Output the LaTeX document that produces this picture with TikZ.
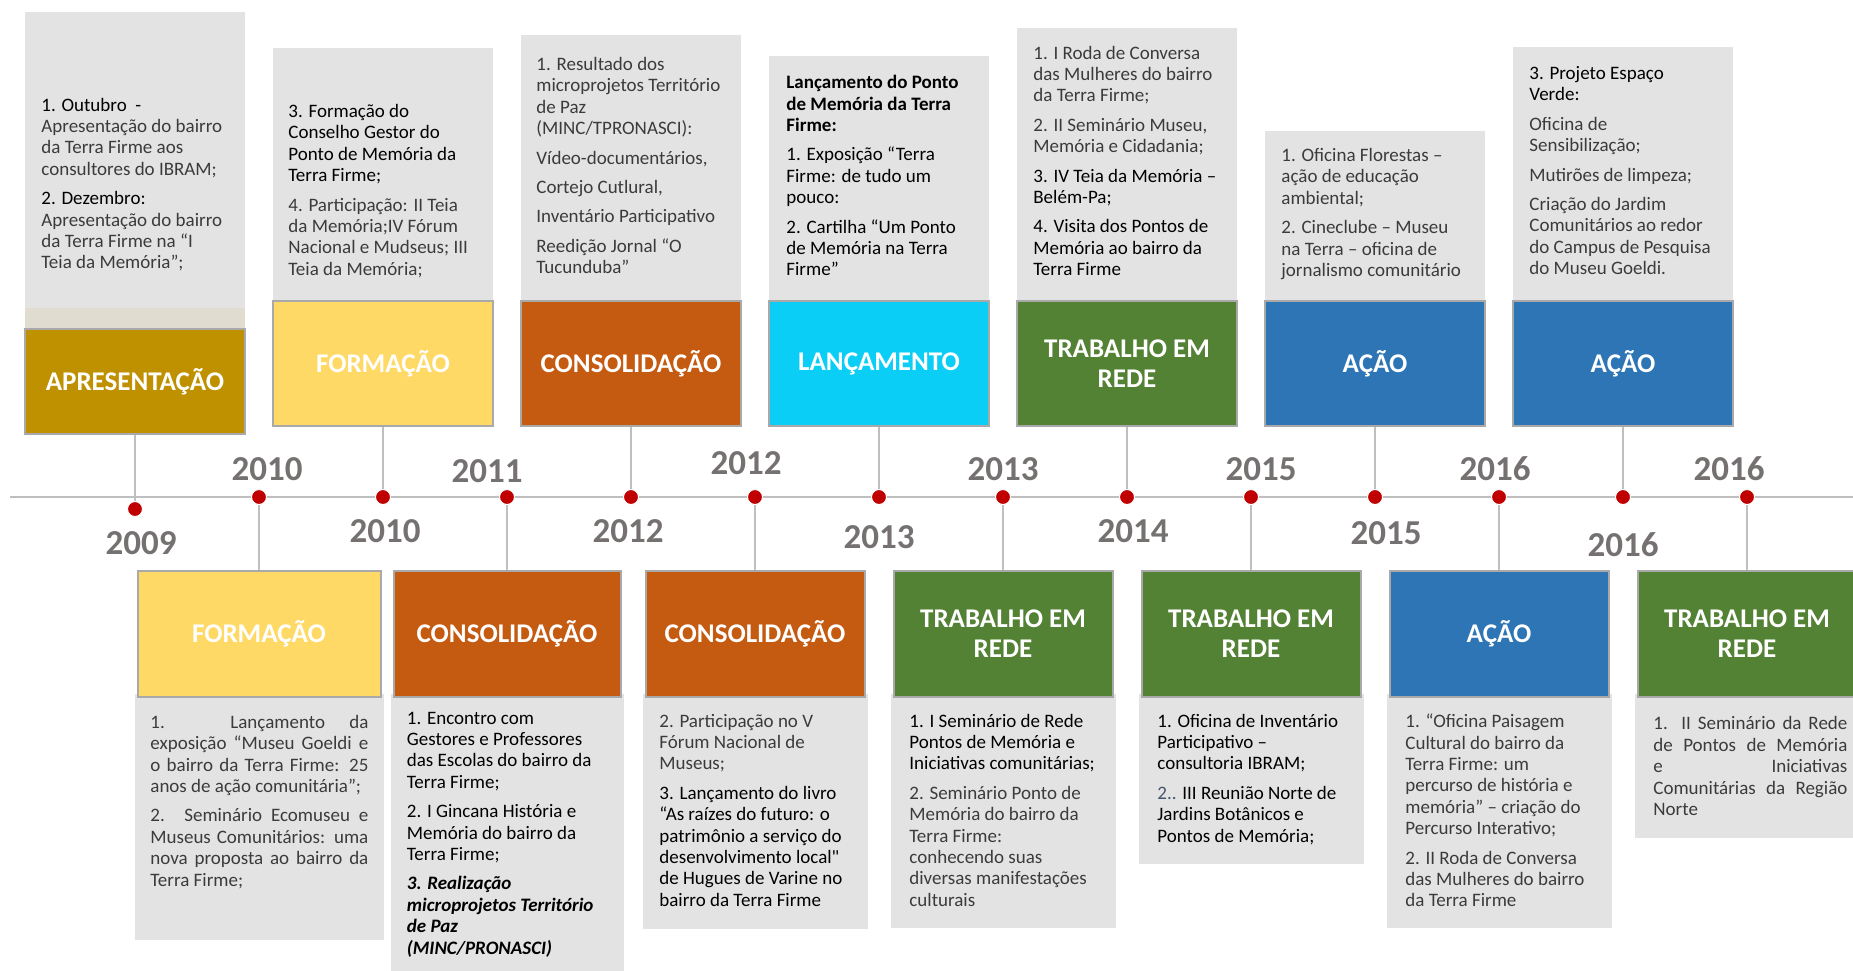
\documentclass[tikz,border=0pt]{standalone}
\usepackage{fontspec}
\setmainfont{Carlito}
\newfontfamily\quotefont{Carlito}
\definecolor{notegrey}{HTML}{E3E3E3}
\definecolor{stripbeige}{HTML}{E1DCD0}
\definecolor{apres}{HTML}{BF9000}
\definecolor{form}{HTML}{FFD966}
\definecolor{cons}{HTML}{C55A11}
\definecolor{lanc}{HTML}{0BCEF6}
\definecolor{rede}{HTML}{548235}
\definecolor{acao}{HTML}{2E75B6}
\definecolor{boxline}{HTML}{A9A9A9}
\definecolor{axisgrey}{HTML}{BFBFBF}
\definecolor{dotred}{HTML}{C00000}
\definecolor{yeargrey}{HTML}{767171}
\definecolor{txtgrey}{HTML}{3B3B3B}
\definecolor{slate}{HTML}{44546A}
\newcommand{\dk}[1]{\textcolor{black}{#1}}
\tikzset{
    notebox/.style   = {fill=notegrey, anchor=north, inner sep=0pt, minimum width=110pt},
    stagebox/.style  = {fill=#1, draw=boxline, line width=1pt, anchor=north, inner sep=0pt,
                        minimum width=110pt, minimum height=62.5pt, text=white, align=center,
                        font=\fontsize{13.5}{15}\selectfont\bfseries},
    notetext/.style  = {anchor=north west, inner sep=0pt, align=left, text=txtgrey,
                        font=\fontsize{9.5}{10.7}\selectfont, execute at begin node={\strut}},
    yearlbl/.style   = {inner sep=0pt, text=yeargrey, font=\fontsize{17.5}{18}\selectfont\bfseries},
    dotmark/.style   = {circle, fill=dotred, draw=white, line width=0.5pt, minimum size=7.5pt, inner sep=0pt},
    axisline/.style  = {draw=axisgrey, line width=1pt},
    conn/.style      = {draw=axisgrey, line width=0.8pt},
}
\begin{document}
\begin{tikzpicture}[x=0.5pt,y=-0.5pt]
    \useasboundingbox (0,0) rectangle (1853,970);
    % time axis
    \coordinate (axis-w) at (10,497);
    \coordinate (axis-e) at (1853,497);
    \draw[axisline] (axis-w) -- (axis-e);

    % upper row
    \node[notebox, minimum height=148pt]   (nU1) at (135,12) {};
    \node[notebox, fill=stripbeige, minimum height=10pt] (sU1) at (135,308) {};
    \node[stagebox=apres, minimum height=52.5pt] (hU1) at (135,328) {APRESENTAÇÃO};
    \node[notebox, minimum height=126pt]   (nU2) at (383,48) {};
    \node[stagebox=form]                   (hU2) at (383,300) {FORMAÇÃO};
    \node[notebox, minimum height=132.5pt] (nU3) at (631,35) {};
    \node[stagebox=cons]                   (hU3) at (631,300) {CONSOLIDAÇÃO};
    \node[notebox, minimum height=122pt]   (nU4) at (879,56) {};
    \node[stagebox=lanc]                   (hU4) at (879,300) {LANÇAMENTO};
    \node[notebox, minimum height=136pt]   (nU5) at (1127,28) {};
    \node[stagebox=rede]                   (hU5) at (1127,300) {TRABALHO EM\\REDE};
    \node[notebox, minimum height=84.5pt]  (nU6) at (1375,131) {};
    \node[stagebox=acao]                   (hU6) at (1375,300) {AÇÃO};
    \node[notebox, minimum height=126.5pt] (nU7) at (1623,47) {};
    \node[stagebox=acao]                   (hU7) at (1623,300) {AÇÃO};

    % lower row
    \node[notebox, minimum width=124.5pt, minimum height=123pt]   (nL1) at (259,694) {};
    \node[stagebox=form, minimum width=121.5pt, minimum height=63pt] (hL1) at (259,570) {FORMAÇÃO};
    \node[notebox, minimum width=116.5pt, minimum height=140.5pt] (nL2) at (507,694) {};
    \node[stagebox=cons, minimum width=113.5pt, minimum height=63pt] (hL2) at (507,570) {CONSOLIDAÇÃO};
    \node[notebox, minimum width=112.5pt, minimum height=117.5pt] (nL3) at (755,694) {};
    \node[stagebox=cons, minimum width=109.5pt, minimum height=63pt] (hL3) at (755,570) {CONSOLIDAÇÃO};
    \node[notebox, minimum width=112.5pt, minimum height=117pt]   (nL4) at (1003,694) {};
    \node[stagebox=rede, minimum width=109.5pt, minimum height=63pt] (hL4) at (1003,570) {TRABALHO EM\\REDE};
    \node[notebox, minimum width=112.5pt, minimum height=85pt]    (nL5) at (1251,694) {};
    \node[stagebox=rede, minimum width=109.5pt, minimum height=63pt] (hL5) at (1251,570) {TRABALHO EM\\REDE};
    \node[notebox, minimum width=112.5pt, minimum height=117pt]   (nL6) at (1499,694) {};
    \node[stagebox=acao, minimum width=109.5pt, minimum height=63pt] (hL6) at (1499,570) {AÇÃO};
    \node[notebox, minimum width=112.5pt, minimum height=72pt]    (nL7) at (1747,694) {};
    \node[stagebox=rede, minimum width=109.5pt, minimum height=63pt] (hL7) at (1747,570) {TRABALHO EM\\REDE};

    % dots on the axis
    \node[dotmark] (d0) at (135,509) {};
    \foreach \i in {1,...,13}
        \node[dotmark] (d\i) at ({135+124*\i},497) {};

    % connectors
    \draw[conn] (hU1) -- (d0);
    \draw[conn] (hU2) -- (d2);
    \draw[conn] (hU3) -- (d4);
    \draw[conn] (hU4) -- (d6);
    \draw[conn] (hU5) -- (d8);
    \draw[conn] (hU6) -- (d10);
    \draw[conn] (hU7) -- (d12);
    \draw[conn] (d1)  -- (hL1);
    \draw[conn] (d3)  -- (hL2);
    \draw[conn] (d5)  -- (hL3);
    \draw[conn] (d7)  -- (hL4);
    \draw[conn] (d9)  -- (hL5);
    \draw[conn] (d11) -- (hL6);
    \draw[conn] (d13) -- (hL7);

    % years
    \node[yearlbl] (ya1) at (267,469)  {2010};
    \node[yearlbl] (ya2) at (487,471)  {2011};
    \node[yearlbl] (ya3) at (746,463)  {2012};
    \node[yearlbl] (ya4) at (1003,469) {2013};
    \node[yearlbl] (ya5) at (1261,469) {2015};
    \node[yearlbl] (ya6) at (1495,469) {2016};
    \node[yearlbl] (ya7) at (1729,469) {2016};
    \node[yearlbl] (yb1) at (141,543)  {2009};
    \node[yearlbl] (yb2) at (385,531)  {2010};
    \node[yearlbl] (yb3) at (628,531)  {2012};
    \node[yearlbl] (yb4) at (879,537)  {2013};
    \node[yearlbl] (yb5) at (1133,531) {2014};
    \node[yearlbl] (yb6) at (1386,533) {2015};
    \node[yearlbl] (yb7) at (1623,545) {2016};

    % texts, upper row
    \node[notetext] (tU1) at (41,97.5) {\dk{1. Outubro\ \ -}\\ Apresentação do bairro\\ da Terra Firme aos\\ consultores do IBRAM;\\[4pt]
        \dk{2. Dezembro:}\\ Apresentação do bairro\\ da Terra Firme na “I\\ Teia da Memória”;};
    \node[notetext] (tU2) at (288,104) {\dk{3. Formação do}\\ \dk{Conselho Gestor do}\\ \dk{Ponto de Memória da}\\ \dk{Terra Firme;}\\[4pt]
        4. Participação: II Teia\\ da Memória;IV Fórum\\ Nacional e Mudseus; III\\ Teia da Memória;};
    \node[notetext] (tU3) at (536,57) {1. Resultado dos\\ microprojetos Território\\ de Paz\\ (MINC/TPRONASCI):\\[4pt]
        Vídeo-documentários,\\[4pt] Cortejo Cutlural,\\[4pt] Inventário Participativo\\[4pt] Reedição Jornal “O\\ Tucunduba”};
    \node[notetext] (tU4) at (786,75) {\textbf{\dk{Lançamento do Ponto}}\\ \textbf{\dk{de Memória da Terra}}\\ \textbf{\dk{Firme:}}\\[4pt]
        \dk{1. Exposição “Terra}\\ \dk{Firme: de tudo um}\\ \dk{pouco:}\\[4pt]
        \dk{2. Cartilha “Um Ponto}\\ \dk{de Memória na Terra}\\ \dk{Firme”}};
    \node[notetext] (tU5) at (1033,45.5) {1. I Roda de Conversa\\ das Mulheres do bairro\\ da Terra Firme;\\[4pt]
        2. II Seminário Museu,\\ Memória e Cidadania;\\[4pt] \dk{3. IV Teia da Memória –}\\ \dk{Belém-Pa;}\\[4pt]
        \dk{4. Visita dos Pontos de}\\ \dk{Memória ao bairro da}\\ \dk{Terra Firme}};
    \node[notetext] (tU6) at (1281,148) {1. Oficina Florestas –\\ ação de educação\\ ambiental;\\[4pt]
        2. Cineclube – Museu\\ na Terra – oficina de\\ jornalismo comunitário};
    \node[notetext] (tU7) at (1529,66) {\dk{3. Projeto Espaço}\\ \dk{Verde:}\\[4pt] Oficina de\\ Sensibilização;\\[4pt]
        Mutirões de limpeza;\\[4pt] Criação do Jardim\\ Comunitários ao redor\\ do Campus de Pesquisa\\ do Museu Goeldi.};

    % texts, lower row
    \node[notetext, align=justify, text width=109pt] (tL1) at (150,713) {1. Lançamento da\linebreak
        exposição “Museu Goeldi e\linebreak o bairro da Terra Firme: 25\linebreak anos de ação comunitária”;\\[4pt]
        2. Seminário Ecomuseu e\linebreak Museus Comunitários: uma\linebreak nova proposta ao bairro da\linebreak Terra Firme;};
    \node[notetext] (tL2) at (406.5,711.5) {\dk{1. Encontro com}\\ \dk{Gestores e Professores}\\ \dk{das Escolas do bairro da}\\ \dk{Terra Firme;}\\[4pt]
        \dk{2. I Gincana História e}\\ \dk{Memória do bairro da}\\ \dk{Terra Firme;}\\[4pt]
        \textbf{\textit{\dk{3. Realização}}}\\ \textbf{\textit{\dk{microprojetos Território}}}\\ \textbf{\textit{\dk{de Paz}}}\\ \textbf{\textit{\dk{(MINC/PRONASCI)}}}};
    \node[notetext] (tL3) at (659,713.5) {2. Participação no V\\ Fórum Nacional de\\ Museus;\\[4pt]
        \dk{3. Lançamento do livro}\\ \dk{“As raízes do futuro: o}\\ \dk{patrimônio a serviço do}\\ \dk{desenvolvimento local{\quotefont"}}\\ \dk{de Hugues de Varine no}\\ \dk{bairro da Terra Firme}};
    \node[notetext] (tL4) at (909,713.5) {\dk{1. I Seminário de Rede}\\ \dk{Pontos de Memória e}\\ \dk{Iniciativas comunitárias;}\\[4pt]
        2. Seminário Ponto de\\ Memória do bairro da\\ Terra Firme:\\ conhecendo suas\\ diversas manifestações\\ culturais};
    \node[notetext] (tL5) at (1157,713.5) {\dk{1. Oficina de Inventário}\\ \dk{Participativo –}\\ \dk{consultoria IBRAM;}\\[4pt]
        \textcolor{slate}{2..} \dk{III Reunião Norte de}\\ \dk{Jardins Botânicos e}\\ \dk{Pontos de Memória;}};
    \node[notetext] (tL6) at (1405,713.5) {1. “Oficina Paisagem\\ Cultural do bairro da\\ Terra Firme: um\\ percurso de história e\\ memória” – criação do\\ Percurso Interativo;\\[4pt]
        2. II Roda de Conversa\\ das Mulheres do bairro\\ da Terra Firme};
    \node[notetext, align=justify, text width=97pt] (tL7) at (1653,714.5) {1. II Seminário da Rede\linebreak
        de Pontos de Memória\linebreak e Iniciativas\linebreak Comunitárias da Região\linebreak Norte};
\end{tikzpicture}
\end{document}
